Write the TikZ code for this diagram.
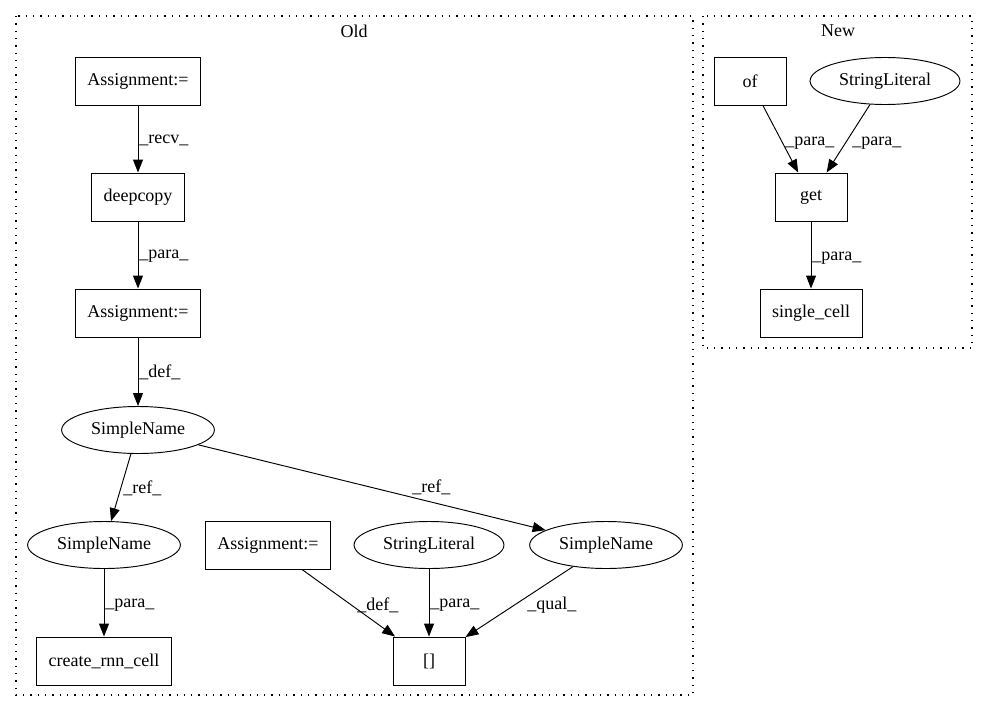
\documentclass[tikz,border=0pt]{standalone}
\usepackage{fontspec}
\setmainfont{Liberation Serif}
\usepackage{tikz}
\usetikzlibrary{arrows.meta,shapes.geometric}

\tikzset{
  box/.style={draw, rectangle, minimum width=72pt, minimum height=48pt, inner xsep=12pt},
  oval/.style={draw, ellipse, minimum height=47pt, inner xsep=7pt},
  lbl/.style={anchor=west, inner sep=0pt},
  clus/.style={line width=1.3pt, dash pattern=on 1.3pt off 6pt},
}

\begin{document}
\begin{tikzpicture}[x=1pt,y=-1pt,line width=0.95pt,>={Triangle[length=13pt,width=10pt]},
    every node/.style={font=\fontsize{18pt}{21pt}\selectfont}]
  \useasboundingbox (0,0) rectangle (987,712);

  % clusters
  \draw[clus] (16,16) rectangle (693,695);
  \draw[clus] (703,16) rectangle (972,348);
  \node (old) at (354,31) {Old};
  \node (new) at (838,31) {New};

  % old graph
  \node[box] (asg1) at (138,81) {Assignment:=};
  \node[box] (dc) at (138,197) {deepcopy};
  \node[box] (asg2) at (138,313) {Assignment:=};
  \node[oval] (sn1) at (138,430) {SimpleName};
  \node[oval] (sn2) at (104,545) {SimpleName};
  \node[box] (crc) at (104,661) {create\_rnn\_cell};
  \node[box] (asg3) at (268,545) {Assignment:=};
  \node[oval] (sl1) at (429,545) {StringLiteral};
  \node[oval] (sn3) at (606,545) {SimpleName};
  \node[box] (idx) at (429,661) {[]};

  \draw[->] (asg1) -- (dc);
  \draw[->] (dc) -- (asg2);
  \draw[->] (asg2) -- (sn1);
  \draw[->] (sn1) -- (sn2);
  \draw[->] (sn1) -- (sn3);
  \draw[->] (sn2) -- (crc);
  \draw[->] (asg3) -- (idx);
  \draw[->] (sl1) -- (idx);
  \draw[->] (sn3) -- (idx);

  \node[lbl] (l1) at (139,140) {\_recv\_};
  \node[lbl] (l2) at (139,256) {\_para\_};
  \node[lbl] (l3) at (139,372) {\_def\_};
  \node[lbl] (l4) at (123,488) {\_ref\_};
  \node[lbl] (l5) at (412,487) {\_ref\_};
  \node[lbl] (l6) at (105,605) {\_para\_};
  \node[lbl] (l7) at (357,605) {\_def\_};
  \node[lbl] (l8) at (430,605) {\_para\_};
  \node[lbl] (l9) at (527,605) {\_qual\_};

  % new graph
  \node[box] (of) at (750,81) {of};
  \node[oval] (sl2) at (885,81) {StringLiteral};
  \node[box] (get) at (811,197) {get};
  \node[box] (sc) at (811,313) {single\_cell};

  \draw[->] (of) -- (get);
  \draw[->] (sl2) -- (get);
  \draw[->] (get) -- (sc);

  \node[lbl] (l10) at (785,143) {\_para\_};
  \node[lbl] (l11) at (852,143) {\_para\_};
  \node[lbl] (l12) at (812,258) {\_para\_};
\end{tikzpicture}
\end{document}
